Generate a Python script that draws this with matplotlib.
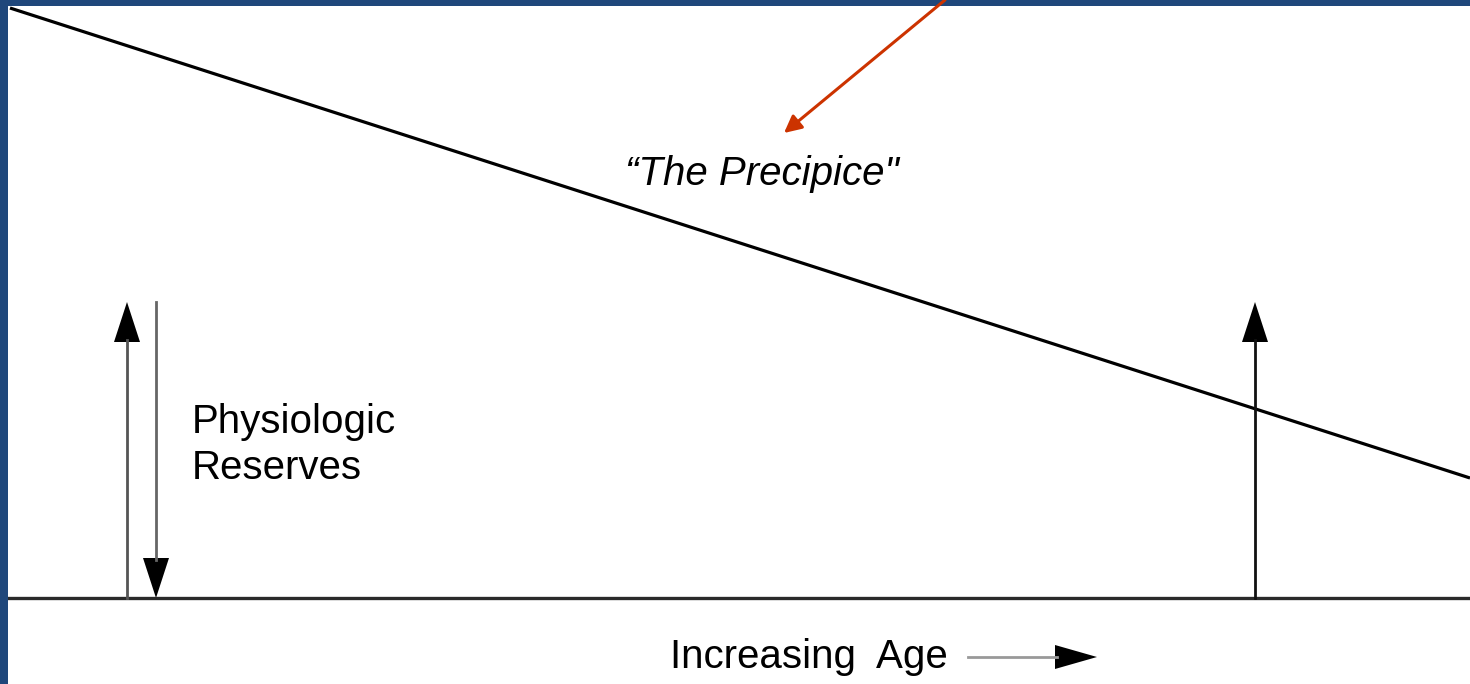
import matplotlib.pyplot as plt

plt.rcParams['font.family'] = ['Liberation Sans', 'DejaVu Sans']

# picture is laid out in pixel units (x right, y down)
decline_x = [10, 1470]
decline_y = [8, 478]
baseline_y = 598

# vertical arrows: (x, start y, end y, shaft colour)
reserve_arrows = [(127, 598, 302, '#555555'),
                  (156, 302, 598, '#666666'),
                  (1255, 598, 302, '#111111')]

pointer_start = (945, 0)
pointer_end = (784, 133)

labels = {
    'precipice': (625, 185, '\u201cThe Precipice"'),
    'reserves1': (192, 433, 'Physiologic'),
    'reserves2': (192, 479, 'Reserves'),
    'age': (670, 668, 'Increasing  Age'),
}
age_arrow = (968, 1097, 657)

border = '#1f477b'

fig = plt.figure(figsize=(14.7, 6.84), dpi=100, facecolor=border)
ax = fig.add_axes([8 / 1470, 0, 1 - 8 / 1470, 1 - 6 / 684])
ax.set_xlim(8, 1470)
ax.set_ylim(684, 6)
ax.set_facecolor('white')
ax.axis('off')
ax.add_patch(plt.Rectangle((8, 6), 1462, 678, color='white', zorder=0))

# declining reserve line
ax.plot(decline_x, decline_y, color='black', lw=2.3, solid_capstyle='butt')

# baseline
ax.plot([8, 1470], [baseline_y, baseline_y], color='#2a2a2a', lw=2.4)

for x, y0, y1, c in reserve_arrows:
    sgn = 1 if y1 > y0 else -1
    ax.plot([x, x], [y0, y1 - 38 * sgn], color=c, lw=2.0)
    ax.arrow(x, y1 - 40 * sgn, 0, 40 * sgn,
             width=0.5, head_width=26, head_length=40, length_includes_head=True,
             color='black', lw=0)

# red pointer
ax.annotate('', xy=pointer_end, xytext=pointer_start,
            arrowprops=dict(arrowstyle='-|>', color='#cc3300', lw=2.2,
                            mutation_scale=26, shrinkA=0, shrinkB=0))

for key, (x, y, s) in labels.items():
    style = 'italic' if key == 'precipice' else 'normal'
    ax.text(x, y, s, fontsize=29, style=style, ha='left', va='baseline',
            color='black')

# increasing age arrow
x0, x1, ya = age_arrow
ax.plot([x0, x1 - 40], [ya, ya], color='#999999', lw=2.0)
ax.arrow(x1 - 42, ya, 42, 0, width=0.5, head_width=24, head_length=42,
         length_includes_head=True, color='black', lw=0)

fig.savefig('out.png', dpi=100, facecolor=border)
